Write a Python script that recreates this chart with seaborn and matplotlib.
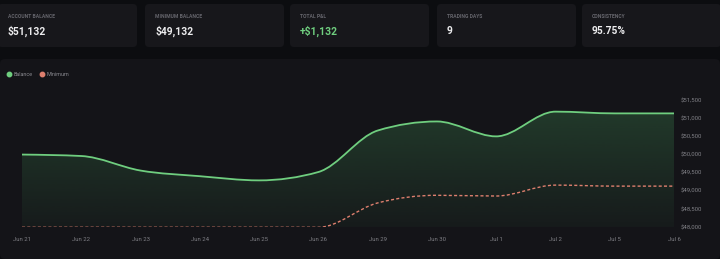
import numpy as np
import matplotlib
matplotlib.use("Agg")
import matplotlib.pyplot as plt
import matplotlib.transforms as mtransforms
from matplotlib.patches import FancyBboxPatch, PathPatch
from matplotlib.path import Path
from matplotlib.lines import Line2D
from matplotlib.colors import to_rgb
import seaborn as sns


# --- data ---
dates = ['Jun 21', 'Jun 22', 'Jun 23', 'Jun 24', 'Jun 25', 'Jun 26',
         'Jun 29', 'Jun 30', 'Jul 1', 'Jul 2', 'Jul 5', 'Jul 6']
balance = [50000, 49960, 49560, 49405, 49290, 49520,
           50660, 50910, 50500, 51180, 51132, 51132]
minimum = [48000, 48000, 48000, 48000, 48000, 48000,
           48670, 48880, 48860, 49160, 49132, 49132]
y_ticks = [48000, 48500, 49000, 49500, 50000, 50500, 51000, 51500]

card_labels = ['ACCOUNT BALANCE', 'MINIMUM BALANCE', 'TOTAL P&L', 'TRADING DAYS', 'CONSISTENCY']
card_values = ['$51,132', '$49,132', '+$1,132', '9', '95.75%']

BG = '#0c0d10'
PANEL = '#141418'
CARD = '#17171b'
GREEN = '#6fce7f'
RED = '#de7f6e'
MUTED = '#66666d'
W, H = 720, 259

sns.set_theme(style='dark', rc={'axes.facecolor': 'none', 'figure.facecolor': BG})
plt.rcParams['font.family'] = ['Roboto', 'DejaVu Sans']


def monotone_path(x, y):
    # cubic bezier path in the same way d3's curveMonotoneX builds it
    x = np.asarray(x, float)
    y = np.asarray(y, float)
    n = len(x)
    h = np.diff(x)
    s = np.diff(y) / h
    t = np.zeros(n)
    for i in range(1, n - 1):
        h0, h1, s0, s1 = h[i - 1], h[i], s[i - 1], s[i]
        p = (s0 * h1 + s1 * h0) / (h0 + h1)
        t[i] = (np.sign(s0) + np.sign(s1)) * min(abs(s0), abs(s1), 0.5 * abs(p))
    t[0] = (3 * s[0] - t[1]) / 2
    t[-1] = (3 * s[-1] - t[-2]) / 2
    verts = [(x[0], y[0])]
    codes = [Path.MOVETO]
    for i in range(n - 1):
        dx = (x[i + 1] - x[i]) / 3
        verts += [(x[i] + dx, y[i] + dx * t[i]),
                  (x[i + 1] - dx, y[i + 1] - dx * t[i + 1]),
                  (x[i + 1], y[i + 1])]
        codes += [Path.CURVE4] * 3
    return verts, codes


fig = plt.figure(figsize=(W / 100, H / 100), dpi=100)
fig.patch.set_facecolor(BG)
px = mtransforms.IdentityTransform()

# chart panel
fig.add_artist(FancyBboxPatch((0, 0), W, H - 59, boxstyle='round,pad=0,rounding_size=5',
                              transform=px, facecolor=PANEL, edgecolor='none', zorder=0))

# stat cards
card_lefts = [-2, 145, 290, 437, 582]
for left, lab, val in zip(card_lefts, card_labels, card_values):
    fig.add_artist(FancyBboxPatch((left, H - 47), 139, 43, boxstyle='round,pad=0,rounding_size=4',
                                  transform=px, facecolor=CARD, edgecolor='none', zorder=0))
    fig.text((left + 10) / W, 1 - 16 / H, lab, color=MUTED, fontsize=3.6,
             fontweight='bold', va='center', ha='left')
    fig.text((left + 10) / W, 1 - 31 / H, val, color=GREEN if val.startswith('+') else '#ececee',
             fontsize=7.4, fontweight='bold', va='center', ha='left')

# plot area
y_lo, y_hi = 48000, 51500
ax = fig.add_axes([22 / W, (H - 227.3) / H, (674 - 22) / W, (227.3 - 100) / H])
pos = np.arange(len(dates))
ax.set_xlim(pos[0], pos[-1])
ax.set_ylim(y_lo, y_hi)
for sp in ax.spines.values():
    sp.set_visible(False)
ax.grid(False)

# gradient fill under balance curve
bv, bc = monotone_path(pos, balance)
fill_path = Path(bv + [(pos[-1], y_lo), (pos[0], y_lo), bv[0]],
                 bc + [Path.LINETO, Path.LINETO, Path.CLOSEPOLY])
clip = PathPatch(fill_path, transform=ax.transData, facecolor='none', edgecolor='none')
ax.add_patch(clip)
g = np.linspace(1, 0, 256)[:, None]
rgba = np.zeros((256, 1, 4))
rgba[..., :3] = to_rgb('#3f8a52')
rgba[..., 3] = 0.06 + 0.26 * g
im = ax.imshow(rgba, extent=[pos[0], pos[-1], y_lo, max(balance)], aspect='auto',
               origin='upper', interpolation='bilinear', zorder=1)
im.set_clip_path(clip)

ax.add_patch(PathPatch(Path(bv, bc), transform=ax.transData, facecolor='none',
                       edgecolor=GREEN, lw=1.3, zorder=3, capstyle='round'))
mv, mc = monotone_path(pos, minimum)
ax.add_patch(PathPatch(Path(mv, mc), transform=ax.transData, facecolor='none',
                       edgecolor=RED, lw=1.0, ls=(0, (2.2, 1.6)), zorder=3))

ax.set_xticks(pos)
ax.set_xticklabels(dates)
ax.set_yticks(y_ticks)
ax.set_yticklabels([f'${v:,}' for v in y_ticks])
ax.yaxis.tick_right()
ax.tick_params(axis='x', length=0, pad=7, labelsize=4.3, colors='#808086')
ax.tick_params(axis='y', length=0, pad=5, labelsize=4.3, colors='#808086')

# legend
handles = [Line2D([], [], marker='o', ls='', color=GREEN, markersize=3.2, label='Balance'),
           Line2D([], [], marker='o', ls='', color=RED, markersize=3.2, label='Minimum')]
leg = fig.legend(handles=handles, loc='center left', bbox_to_anchor=(4 / W, 1 - 74 / H),
                 ncol=2, frameon=False, fontsize=3.9, handletextpad=0.45, columnspacing=1.3,
                 handlelength=0.8, borderpad=0)
for txt in leg.get_texts():
    txt.set_color('#8a8a90')

fig.savefig('out.png', dpi=100, facecolor=BG)
